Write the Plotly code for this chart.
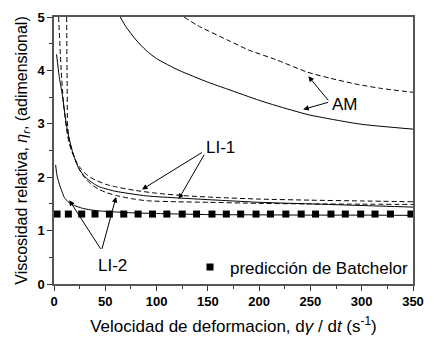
import plotly.graph_objects as go

# Relative viscosity vs shear rate
li2_x = [1.6, 3, 5.4, 8, 10.1, 14.9, 20, 27.4, 35, 43.2, 59, 80, 100, 150, 200, 250, 300, 350]
li2_y = [2.23, 2.02, 1.86, 1.72, 1.62, 1.52, 1.47, 1.42, 1.39, 1.37, 1.35, 1.33, 1.32, 1.30, 1.295, 1.29, 1.29, 1.285]

li1_x = [2.5, 5, 8, 13, 18, 24, 31, 43, 59, 90, 122, 150, 200, 250, 300, 350]
li1_y = [4.30, 3.90, 3.55, 2.88, 2.48, 2.17, 1.99, 1.83, 1.74, 1.65, 1.61, 1.58, 1.53, 1.50, 1.47, 1.44]

li1a_x = [4.5, 7, 9.2, 12.3, 15, 18, 22, 27, 33, 40, 50, 60, 80, 100, 130, 160, 200, 250, 300, 350]
li1a_y = [5.0, 4.0, 3.4, 2.88, 2.62, 2.45, 2.28, 2.14, 2.03, 1.95, 1.87, 1.82, 1.75, 1.70, 1.65, 1.62, 1.59, 1.57, 1.555, 1.54]

li1b_x = [12.3, 12.8, 13.3, 15, 18, 22, 26, 30, 36, 43, 50, 60, 75, 90, 120, 150, 200, 250, 300, 350]
li1b_y = [5.0, 3.8, 2.95, 2.7, 2.48, 2.26, 2.10, 1.99, 1.87, 1.78, 1.72, 1.66, 1.60, 1.56, 1.54, 1.53, 1.51, 1.50, 1.495, 1.49]

am_x = [64.6, 70, 80, 90, 100, 122, 150, 169, 200, 216.6, 248, 275, 300, 350]
am_y = [5.0, 4.82, 4.57, 4.37, 4.22, 4.0, 3.78, 3.65, 3.44, 3.34, 3.17, 3.07, 2.99, 2.9]

amd_x = [126.8, 140, 169, 190, 216.6, 246.6, 270, 295.5, 320, 350]
amd_y = [5.0, 4.84, 4.57, 4.38, 4.2, 3.97, 3.85, 3.74, 3.66, 3.59]

batch_x = [3, 14, 27, 40, 54, 68, 82, 96, 110, 125, 139, 154, 168, 182, 197,
           211, 226, 241, 255, 270, 284, 299, 313, 328, 348]
batch_y = [1.31] * len(batch_x)

dash = "5px,3px"
fig = go.Figure()

def curve(x, y, d="solid"):
    fig.add_trace(go.Scatter(x=x, y=y, mode="lines", showlegend=False,
                             line=dict(color="black", width=1, dash=d,
                                       shape="spline", smoothing=0.6)))

curve(li2_x, li2_y)
curve(li1_x, li1_y)
curve(li1a_x, li1a_y, dash)
curve(li1b_x, li1b_y, dash)
curve(am_x, am_y)
curve(amd_x, amd_y, dash)

fig.add_trace(go.Scatter(x=batch_x, y=batch_y, mode="markers",
                         name="predicción de Batchelor",
                         marker=dict(symbol="square", size=7, color="black")))

# label arrows: (tail x, tail y, tip x, tip y)
arrows = [
    (268.7, 3.41, 248, 3.89), (268.7, 3.41, 243, 3.27),
    (145.7, 2.48, 85.8, 1.77), (147.3, 2.45, 121.5, 1.59),
    (46.4, 0.63, 14.9, 1.57), (46.4, 0.63, 60.5, 1.63),
]
for tx, ty, hx, hy in arrows:
    fig.add_annotation(x=hx, y=hy, ax=tx, ay=ty, xref="x", yref="y",
                       axref="x", ayref="y", text="", showarrow=True,
                       arrowhead=2, arrowsize=1.1, arrowwidth=1,
                       arrowcolor="black")

labels = [("AM", 284, 3.37), ("LI-1", 162.4, 2.55), ("LI-2", 57.5, 0.35)]
for t, x, y in labels:
    fig.add_annotation(x=x, y=y, text=t, showarrow=False,
                       font=dict(size=17, color="black"))

font = "Liberation Sans, Arial, sans-serif"
axis_common = dict(showline=True, linecolor="#555", linewidth=1.5, mirror=True,
                   ticks="outside", ticklen=5, tickwidth=1, tickcolor="#333",
                   showgrid=False, zeroline=False,
                   tickfont=dict(family=font, size=13, color="black", weight="bold"))

fig.update_xaxes(range=[0, 350], dtick=50, tick0=0,
                 minor=dict(dtick=25, ticklen=3, ticks="outside", tickcolor="#333"),
                 title=dict(text="Velocidad de deformacion, d<i>γ</i> / d<i>t</i> (s<sup>-1</sup>)",
                            font=dict(family=font, size=17, color="black"), standoff=12),
                 **axis_common)
fig.update_yaxes(range=[0, 5], dtick=1, tick0=0,
                 minor=dict(dtick=0.5, ticklen=3, ticks="outside", tickcolor="#333"),
                 title=dict(text="Viscosidad relativa, <i>η<sub>r</sub></i>, (adimensional)",
                            font=dict(family=font, size=16, color="black"), standoff=6),
                 **axis_common)

fig.update_layout(width=434, height=343, margin=dict(l=54, r=10, t=13, b=59),
                  plot_bgcolor="white", paper_bgcolor="white",
                  font=dict(family=font, color="black"),
                  legend=dict(x=1, xanchor="right", y=-0.005, yanchor="bottom",
                              bgcolor="rgba(0,0,0,0)",
                              font=dict(family=font, size=17, color="black")),
                  showlegend=True)

fig.write_html("out.html")
